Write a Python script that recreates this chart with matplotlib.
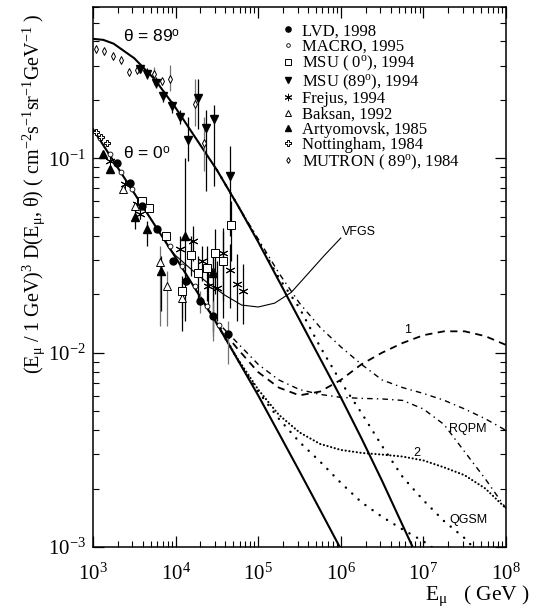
import matplotlib
matplotlib.use("Agg")
import matplotlib.pyplot as plt
import numpy as np
from matplotlib.container import ErrorbarContainer

plt.rcParams['font.family'] = ['Liberation Serif', 'DejaVu Serif']
plt.rcParams['mathtext.fontset'] = 'custom'
plt.rcParams['mathtext.rm'] = 'Liberation Serif'
plt.rcParams['mathtext.it'] = 'Liberation Serif:italic'
plt.rcParams['mathtext.sf'] = 'Liberation Sans'
plt.rcParams['axes.unicode_minus'] = False

# ---- model curves (E in GeV, E^3 D) ----
E_grid = [1e3, 1.778e3, 3.162e3, 5.623e3, 1e4, 1.778e4, 3.162e4, 5.623e4,
          1e5, 1.778e5, 3.162e5, 5.623e5, 1e6, 1.778e6, 3.162e6, 5.623e6,
          1e7, 1.778e7, 3.162e7, 5.623e7, 1e8]

# theta = 0
E_v_conv = E_grid[:13]
F_v_conv = [0.1413, 0.0966, 0.0661, 0.0452, 0.0309, 0.0209, 0.0141, 0.00923,
            0.00603, 0.00385, 0.00245, 0.00155, 0.000977]
E_v_2 = E_grid[6:]
F_v_2 = [0.0141, 0.00933, 0.00646, 0.00479, 0.00389, 0.00339, 0.00316, 0.00305,
         0.00299, 0.00292, 0.00279, 0.00257, 0.00234, 0.00200, 0.00158]
E_v_qgsm = E_grid[6:17] + [1.26e7]
F_v_qgsm = [0.0141, 0.00923, 0.00631, 0.00457, 0.00347, 0.00275, 0.00214,
            0.0017, 0.00143, 0.00123, 0.00107, 0.001]
E_v_rqpm = E_grid[5:]
F_v_rqpm = [0.0209, 0.01445, 0.01122, 0.00871, 0.00724, 0.00646, 0.0061, 0.00589,
            0.00582, 0.00578, 0.00568, 0.00513, 0.00427, 0.00309, 0.00224, 0.00158]
E_v_1 = E_grid[6:]
F_v_1 = [0.01413, 0.01047, 0.00794, 0.00661, 0.00603, 0.00631, 0.00724, 0.00871,
         0.01, 0.01122, 0.0123, 0.01288, 0.01288, 0.01216, 0.01096]
E_vfgs = [7943, 1e4, 15849, 25119, 39811, 63096, 1e5, 158489, 251189,
          398107, 630957, 1e6]
F_vfgs = [0.03548, 0.03162, 0.0266, 0.02265, 0.01972, 0.01758, 0.01718, 0.01799,
          0.02042, 0.02541, 0.03162, 0.0389]

# theta = 89
E_h_conv = [1e3, 1.334e3] + E_grid[1:16] + [7.41e6]
F_h_conv = [0.412, 0.407, 0.389, 0.3273, 0.2541, 0.1820, 0.1259, 0.0871, 0.05754,
            0.03715, 0.02344, 0.01479, 0.00933, 0.00589, 0.00363, 0.00219,
            0.00129, 0.001]
E_h_qgsm = E_grid[6:19] + [3.98e7]
F_h_qgsm = [0.0871, 0.05754, 0.03758, 0.02427, 0.01698, 0.01072, 0.00708,
            0.0049, 0.00331, 0.00229, 0.00174, 0.00136, 0.00111, 0.001]
E_h_rqpm = E_grid[6:]
F_h_rqpm = [0.0871, 0.05754, 0.03846, 0.0257, 0.01799, 0.01349, 0.01072, 0.00871,
            0.00724, 0.00661, 0.00617, 0.00569, 0.00513, 0.00457, 0.00398]

# ---- experimental data ----
E_lvd = [1954, 2805, 3917, 5957, 9311, 13370, 19720, 28380, 43050]
F_lvd = [0.0942, 0.0745, 0.0568, 0.04325, 0.02965, 0.02339, 0.01849, 0.01549, 0.0125]
lo_lvd = [0.0942, 0.0745, 0.0568, 0.0425, 0.0285, 0.0222, 0.016, 0.01153, 0.00879]
hi_lvd = [0.0942, 0.0745, 0.0568, 0.044, 0.0308, 0.0246, 0.0208, 0.01849, 0.01459]

E_macro = [1200, 1600, 2200, 3000, 4200, 6000, 8500, 12000, 17000, 24000, 34000]
F_macro = [0.128, 0.1055, 0.0855, 0.0697, 0.056, 0.044, 0.0352, 0.0279, 0.022,
           0.0173, 0.0138]

E_msu0 = [3917, 4764, 7656, 11940, 15350, 18660, 23990, 29990, 37500, 46880]
F_msu0 = [0.0601, 0.05546, 0.0398, 0.0208, 0.03184, 0.0257, 0.02729, 0.0326,
          0.02965, 0.0453]
lo_msu0 = [0.0601, 0.05546, 0.0375, 0.01297, 0.02483, 0.0185, 0.0185, 0.0201,
           0.0185, 0.02965]
hi_msu0 = [0.0601, 0.05546, 0.042, 0.02483, 0.0398, 0.0314, 0.0354, 0.04325,
           0.04227, 0.0601]

E_msu89 = [3707, 4508, 5794, 7031, 9036, 11300, 14130, 18660, 23330, 29170, 45600]
F_msu89 = [0.2897, 0.2729, 0.2455, 0.2104, 0.1849, 0.164, 0.125, 0.2056, 0.1426,
           0.1603, 0.0809]
lo_msu89 = [0.28, 0.257, 0.23, 0.196, 0.172, 0.151, 0.0966, 0.141, 0.0678, 0.0718,
            0.0398]
hi_msu89 = [0.30, 0.29, 0.262, 0.225, 0.198, 0.178, 0.164, 0.257, 0.1782, 0.1892,
            0.1153]

E_frejus = [1607, 2438, 3412, 3707, 11300, 16260, 20890, 24660, 31700, 37500,
            45600, 55340, 65460]
F_frejus = [0.0966, 0.0736, 0.0581, 0.0516, 0.0341, 0.0375, 0.02965, 0.02208,
            0.02153, 0.0326, 0.02667, 0.0226, 0.0208]
lo_frejus = [0.0966, 0.0736, 0.0581, 0.049, 0.029, 0.02965, 0.02339, 0.0164,
             0.01459, 0.0151, 0.017, 0.01459, 0.0141]
hi_frejus = [0.0966, 0.0736, 0.0581, 0.054, 0.0398, 0.0448, 0.0354, 0.02636,
             0.02965, 0.04375, 0.0362, 0.0322, 0.02858]

E_baksan = [2307, 3221, 6471, 7870, 11940, 28380]
F_baksan = [0.0693, 0.0568, 0.0293, 0.02208, 0.01914, 0.02636]
lo_baksan = [0.0693, 0.0568, 0.01374, 0.01374, 0.0151, 0.01222]
hi_baksan = [0.0693, 0.0568, 0.0354, 0.02636, 0.0234, 0.0334]

E_arty = [1321, 1607, 3221, 4508, 6650, 13000, 28380]
F_arty = [0.105, 0.0879, 0.0498, 0.04325, 0.02636, 0.0398, 0.0257]
lo_arty = [0.105, 0.0879, 0.0432, 0.0354, 0.0164, 0.01459, 0.01297]
hi_arty = [0.105, 0.0879, 0.0568, 0.0475, 0.0314, 0.1, 0.0314]

E_nott = [1087, 1250, 1479]
F_nott = [0.1374, 0.1282, 0.1194]

E_mutron = [1087, 1358, 1746, 2183, 2729, 3412, 5470, 6839, 8551, 17180, 22080]
F_mutron = [0.3664, 0.358, 0.3373, 0.3221, 0.2793, 0.2858, 0.2729, 0.2512, 0.257,
            0.1914, 0.1194]
lo_mutron = [0.3664, 0.358, 0.3373, 0.3221, 0.2793, 0.2858, 0.2395, 0.2512, 0.2208,
             0.146, 0.0857]
hi_mutron = [0.3664, 0.358, 0.3373, 0.3221, 0.2793, 0.2858, 0.2965, 0.2512, 0.3034,
             0.257, 0.164]

fig = plt.figure(figsize=(5.36, 6.08), dpi=100)
ax = fig.add_axes([0.1735, 0.1003, 0.7705, 0.888])
ax.set_xscale('log')
ax.set_yscale('log')
ax.set_xlim(1e3, 1e8)
ax.set_ylim(1e-3, 0.6)

# curves
ax.plot(E_v_conv, F_v_conv, '-k', lw=1.5)
ax.plot(E_h_conv, F_h_conv, '-k', lw=1.5)
ax.plot(E_vfgs, F_vfgs, '-k', lw=0.8)
ax.plot(E_v_2, F_v_2, color='k', lw=1.5, linestyle=(0, (0.1, 1.7)),
        dash_capstyle='round')
ax.plot(E_v_qgsm, F_v_qgsm, color='k', lw=1.7, linestyle=(0, (0.1, 3.6)),
        dash_capstyle='round')
ax.plot(E_h_qgsm, F_h_qgsm, color='k', lw=1.7, linestyle=(0, (0.1, 3.6)),
        dash_capstyle='round')
ax.plot(E_v_rqpm, F_v_rqpm, color='k', lw=1.0, linestyle=(0, (4, 3, 1, 3)))
ax.plot(E_h_rqpm, F_h_rqpm, color='k', lw=1.0, linestyle=(0, (4, 3, 1, 3)))
ax.plot(E_v_1, F_v_1, color='k', lw=1.3, linestyle=(0, (4, 3)))

# data
def errs(F, lo, hi):
    F = np.array(F)
    return [F - np.array(lo), np.array(hi) - F]

ebk = dict(ls='none', elinewidth=0.9, capsize=0)
ax.errorbar(E_mutron, F_mutron, yerr=errs(F_mutron, lo_mutron, hi_mutron),
            fmt='d', ms=4, mfc='white', mec='k', mew=0.7, ecolor='0.45', **ebk,
            label='MUTRON ( 89$^{\\rm o}$), 1984')
ax.errorbar(E_msu89, F_msu89, yerr=errs(F_msu89, lo_msu89, hi_msu89),
            fmt='v', ms=5.5, color='k', ecolor='k', **ebk, label='MSU (89$^{\\rm o}$), 1994')
ax.errorbar(E_baksan, F_baksan, yerr=errs(F_baksan, lo_baksan, hi_baksan),
            fmt='^', ms=5.5, mfc='white', mec='k', mew=0.7, ecolor='0.45', **ebk,
            label='Baksan, 1992')
ax.errorbar(E_arty, F_arty, yerr=errs(F_arty, lo_arty, hi_arty),
            fmt='^', ms=5.5, color='k', ecolor='k', **ebk, label='Artyomovsk, 1985')
ax.errorbar(E_msu0, F_msu0, yerr=errs(F_msu0, lo_msu0, hi_msu0),
            fmt='s', ms=6, mfc='white', mec='k', mew=0.7, ecolor='k', **ebk,
            label='MSU ( 0$^{\\rm o}$), 1994')
ax.errorbar(E_frejus, F_frejus, yerr=errs(F_frejus, lo_frejus, hi_frejus),
            fmt='none', ecolor='k', **ebk)
ax.plot(E_frejus, F_frejus, ls='none', marker=(6, 2, 0), ms=7, mec='k', mew=0.7,
        label='Frejus, 1994')
ax.errorbar(E_lvd, F_lvd, yerr=errs(F_lvd, lo_lvd, hi_lvd),
            fmt='o', ms=5, color='k', ecolor='0.45', **ebk, label='LVD, 1998')
ax.plot(E_macro, F_macro, 'o', ms=3.5, mfc='white', mec='k', mew=0.6,
        label='MACRO, 1995')
ax.plot(E_nott, F_nott, 'P', ms=5, mfc='white', mec='k', mew=0.7,
        label='Nottingham, 1984')

# legend in the order of the reference, markers only
h, l = ax.get_legend_handles_labels()
order = ['LVD, 1998', 'MACRO, 1995', 'MSU ( 0$^{\\rm o}$), 1994',
         'MSU (89$^{\\rm o}$), 1994', 'Frejus, 1994', 'Baksan, 1992',
         'Artyomovsk, 1985', 'Nottingham, 1984', 'MUTRON ( 89$^{\\rm o}$), 1984']
hd = {}
for hh, ll in zip(h, l):
    hd[ll] = hh[0] if isinstance(hh, ErrorbarContainer) else hh
leg = ax.legend([hd[k] for k in order], order, loc='upper left',
                bbox_to_anchor=(0.455, 0.97), frameon=False, fontsize=12,
                handlelength=0.8, handletextpad=0.45, labelspacing=-0.04,
                borderpad=0, borderaxespad=0, markerscale=0.75)

# annotations
sans = dict(family='Liberation Sans')
ax.text(2.3e3, 0.42, 'θ = 89$^{\\mathsf{o}}$', fontsize=12.5, ha='left', va='center', **sans)
ax.text(2.3e3, 0.106, 'θ = 0$^{\\mathsf{o}}$', fontsize=12.5, ha='left', va='center', **sans)
ax.text(1.04e6, 0.0418, 'VFGS', fontsize=9, ha='left', va='center', **sans)
ax.text(5.9e6, 0.0131, '1', fontsize=9, ha='left', va='center', **sans)
ax.text(2.04e7, 0.00407, 'RQPM', fontsize=9, ha='left', va='center', **sans)
ax.text(7.5e6, 0.00303, '2', fontsize=9, ha='left', va='center', **sans)
ax.text(2.04e7, 0.00137, 'QGSM', fontsize=9, ha='left', va='center', **sans)

ax.tick_params(which='both', direction='in', top=True, right=True, labelsize=15)
ax.tick_params(axis='x', which='major', pad=12)
ax.tick_params(axis='y', which='major', pad=5)
ax.tick_params(which='major', length=8, width=0.9)
ax.tick_params(which='minor', length=4, width=0.8)
for s in ax.spines.values():
    s.set_linewidth(1.1)

fig.text(0.062, 0.979,
         '(E$_{\\rm μ}$ / 1 GeV)$^3$ D(E$_{\\rm μ}$, θ) ( cm$^{-2}$s$^{-1}$sr$^{-1}$GeV$^{-1}$ )',
         rotation=90, ha='center', va='top', fontsize=14.5)
fig.text(0.988, 0.0, 'E$_{\\rm μ}$   ( GeV )', ha='right', va='bottom', fontsize=15.5)

fig.savefig('out.png', dpi=100)
